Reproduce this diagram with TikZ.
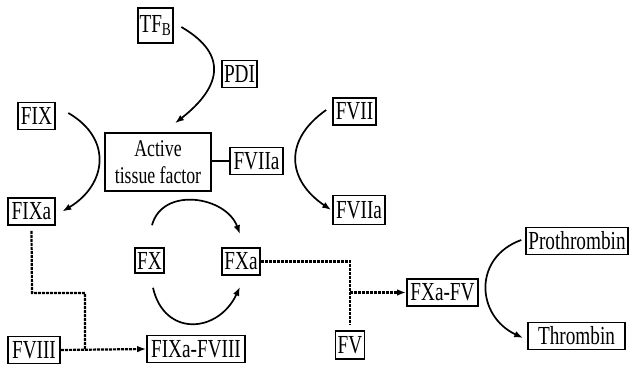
\documentclass[tikz,border=0pt]{standalone}
\usepackage{fontspec}
\setmainfont[FakeStretch=0.74]{Liberation Serif}
\usetikzlibrary{arrows.meta}

\begin{document}
\begin{tikzpicture}[x=1pt,y=1pt,
  box/.style={draw, line width=1.6pt, inner sep=1pt, minimum height=27pt,
    font=\fontsize{26}{26}\selectfont},
  conv/.style={line width=1.7pt, -{Latex[length=9pt,width=6.5pt]}},
  flow/.style={line width=2.2pt, dash pattern=on 3pt off 1pt},
  flowarrow/.style={flow, -{Latex[length=9pt,width=6.5pt]}}]
\useasboundingbox (0,0) rectangle (630,370);

% factors and complexes
\node[box, minimum width=35pt, minimum height=35pt] (tfb) at (155.5,344.5) {TF\textsubscript{B}};
\node[box, minimum width=35pt] (pdi) at (239.5,296) {PDI};
\node[box, minimum width=37pt] (fix) at (36.5,254) {FIX};
\node[box, minimum width=106pt, minimum height=58pt, align=center,
      font=\fontsize{24}{27}\selectfont] (atf) at (158,208) {Active\\tissue factor};
\node[box, minimum width=53pt] (fviiaB) at (256.5,209) {FVIIa};
\node[box, minimum width=43pt] (fvii) at (354.5,258.5) {FVII};
\node[box, minimum width=52pt, minimum height=29pt] (fviia) at (359,160) {FVIIa};
\node[box, minimum width=47pt] (fixa) at (31.5,158.5) {FIXa};
\node[box, minimum width=29pt, minimum height=25pt] (fx) at (149.5,109.5) {FX};
\node[box, minimum width=38pt] (fxa) at (241,108.5) {FXa};
\node[box, minimum width=52pt] (fviii) at (34,20) {FVIII};
\node[box, minimum width=98pt] (fixafviii) at (196,21) {FIXa-FVIII};
\node[box, minimum width=29pt, minimum height=28pt] (fv) at (350,25) {FV};
\node[box, minimum width=71pt] (fxafv) at (442.5,77.5) {FXa-FV};
\node[box, minimum width=102pt] (pro) at (577,129) {Prothrombin};
\node[box, minimum width=97pt] (thr) at (576.5,34) {Thrombin};

% junction points of the dotted paths
\coordinate (jA) at (32,77);
\coordinate (jB) at (85,77);
\coordinate (jC) at (350,108.5);
\coordinate (jD) at (350,77.5);

% conversions
\draw[conv] ([shift={(7.5pt,-1.5pt)}]tfb.east) to[out=-30,in=38,looseness=1.5] ([shift={(17pt,9pt)}]atf.north);
\draw[conv] ([shift={(12.5pt,3pt)}]fix.east) to[out=-30,in=31,looseness=1.34] ([shift={(6.5pt,0pt)}]fixa.east);
\draw[conv] ([shift={(-6pt,1.5pt)}]fvii.west) to[out=215,in=146,looseness=1.35] ([shift={(-1pt,0pt)}]fviia.west);
\draw[conv] ([shift={(2.5pt,22pt)}]fx.north) to[out=75,in=110,looseness=1.17] ([shift={(-1pt,13pt)}]fxa.north);
\draw[conv] ([shift={(3.5pt,-14pt)}]fx.south) to[out=-77,in=-115,looseness=1.5] ([shift={(-1pt,-11pt)}]fxa.south);
\draw[conv] ([shift={(-4pt,1pt)}]pro.west) to[out=200,in=155,looseness=1.35] ([shift={(-4pt,-2pt)}]thr.west);

% tissue factor bound to FVIIa
\draw[line width=1.7pt] (fviiaB.west) -- (fviiaB.west -| atf.east);

% FIXa with FVIII
\draw[flow] ([yshift=-5pt]fixa.south) -- (jA) -- (jB) -- (jB |- fviii.east);
\draw[flowarrow] (fviii.east) -- (fixafviii.west);

% FXa with FV
\draw[flow] (fxa.east) -- (jC) -- ([yshift=5pt]fv.north);
\draw[flowarrow] (jD) -- (fxafv.west);
\end{tikzpicture}
\end{document}
